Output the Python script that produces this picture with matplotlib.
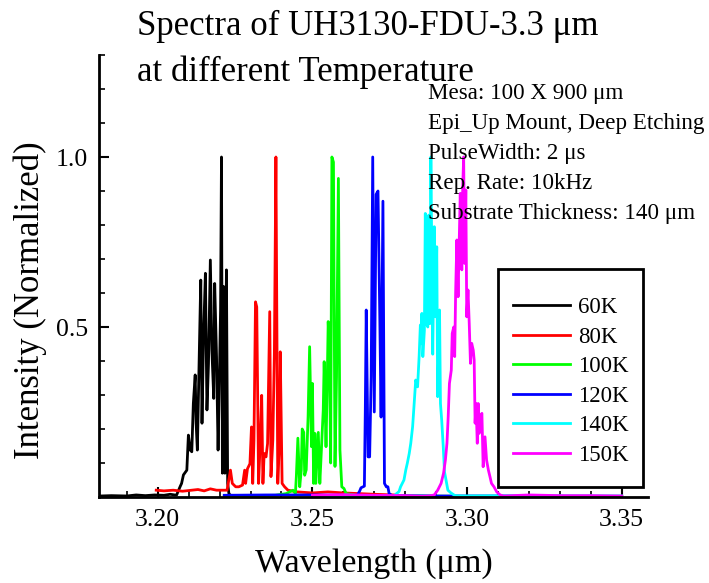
import matplotlib
matplotlib.use("Agg")
import matplotlib.pyplot as plt
from matplotlib.ticker import MultipleLocator, FixedLocator
from matplotlib.patches import Rectangle

plt.rcParams['font.family'] = ['Liberation Serif', 'DejaVu Serif']

# ---- data ----
labels = ["60K", "80K", "100K", "120K", "140K", "150K"]
colors = ["#000000", "#FF0000", "#00FF00", "#0000FF", "#00FFFF", "#FF00FF"]

wl_60 = [3.1815, 3.185, 3.190, 3.193, 3.196, 3.199, 3.202, 3.204, 3.2055,
         3.2061, 3.2072, 3.2077, 3.2083, 3.2094, 3.2099, 3.2105, 3.2110, 3.2115,
         3.2121, 3.2124, 3.2128, 3.2135, 3.2139, 3.2143, 3.2148, 3.2154, 3.2159,
         3.2164, 3.2170, 3.2175, 3.2181, 3.2184, 3.2190, 3.2195, 3.2199, 3.2203,
         3.2206, 3.2209, 3.2213, 3.2217, 3.2222, 3.2226, 3.2230, 3.2235, 3.226, 3.230]
in_60 = [0.003, 0.004, 0.003, 0.006, 0.004, 0.006, 0.005, 0.008, 0.006,
         0.006, 0.030, 0.040, 0.065, 0.079, 0.182, 0.138, 0.133, 0.275,
         0.359, 0.217, 0.138, 0.457, 0.638, 0.217, 0.471, 0.658, 0.256,
         0.393, 0.697, 0.432, 0.290, 0.628, 0.413, 0.138, 0.334, 0.550,
         1.000, 0.070, 0.619, 0.070, 0.668, 0.040, 0.010, 0.005, 0.004, 0.003]

wl_80 = [3.1995, 3.202, 3.205, 3.208, 3.211, 3.213, 3.215, 3.217, 3.219,
         3.2203, 3.2224, 3.2235, 3.2241, 3.2252, 3.2262, 3.2274, 3.2281, 3.2284,
         3.2290, 3.2298, 3.2303, 3.2307, 3.2311, 3.2316, 3.2320, 3.2326, 3.2331,
         3.2336, 3.2340, 3.2344, 3.2350, 3.2355, 3.2362, 3.2366, 3.2372, 3.2377,
         3.2382, 3.2388, 3.2393, 3.2396, 3.2402, 3.2410, 3.2421, 3.245, 3.250,
         3.255, 3.260, 3.265, 3.270, 3.2765]
in_80 = [0.020, 0.018, 0.020, 0.017, 0.020, 0.022, 0.018, 0.024, 0.020,
         0.020, 0.020, 0.079, 0.040, 0.030, 0.030, 0.035, 0.079, 0.040,
         0.083, 0.098, 0.206, 0.040, 0.167, 0.574, 0.559, 0.040, 0.157,
         0.299, 0.040, 0.128, 0.118, 0.157, 0.545, 0.060, 0.167, 0.422,
         1.000, 0.040, 0.157, 0.427, 0.040, 0.030, 0.020, 0.015, 0.012,
         0.015, 0.012, 0.010, 0.008, 0.006]

wl_100 = [3.2215, 3.230, 3.238, 3.2415, 3.2437, 3.2445, 3.2448, 3.2453, 3.2459,
          3.2464, 3.2467, 3.2472, 3.2475, 3.2480, 3.2486, 3.2491, 3.2497, 3.2500,
          3.2504, 3.2508, 3.2511, 3.2519, 3.2524, 3.2529, 3.2535, 3.2538, 3.2544,
          3.2548, 3.2551, 3.2555, 3.2559, 3.2563, 3.2568, 3.2573, 3.2578, 3.2584,
          3.2589, 3.2595, 3.2602, 3.2609, 3.265, 3.280, 3.300, 3.330, 3.350]
in_100 = [0.003, 0.004, 0.005, 0.010, 0.020, 0.010, 0.060, 0.173, 0.030,
          0.080, 0.200, 0.190, 0.064, 0.080, 0.236, 0.442, 0.148, 0.334,
          0.040, 0.187, 0.040, 0.190, 0.040, 0.138, 0.256, 0.398, 0.148,
          0.344, 0.516, 0.432, 0.100, 1.000, 0.985, 0.090, 0.354, 0.937,
          0.138, 0.030, 0.025, 0.010, 0.004, 0.003, 0.002, 0.002, 0.002]

wl_120 = [3.2215, 3.235, 3.250, 3.260, 3.2644, 3.2653, 3.2657, 3.2668, 3.2671,
          3.2674, 3.2680, 3.2685, 3.2690, 3.2695, 3.2700, 3.2706, 3.2712, 3.2718,
          3.2722, 3.2728, 3.2733, 3.2739, 3.2744, 3.2748, 3.2758, 3.290, 3.310,
          3.330, 3.350]
in_120 = [0.005, 0.006, 0.006, 0.005, 0.003, 0.018, 0.027, 0.032, 0.256,
          0.550, 0.118, 0.118, 0.354, 1.000, 0.250, 0.890, 0.900, 0.520,
          0.235, 0.870, 0.040, 0.030, 0.030, 0.010, 0.004, 0.003, 0.003,
          0.002, 0.002]

wl_140 = [3.255, 3.270, 3.2764, 3.2772, 3.2780, 3.2785, 3.2796, 3.2802, 3.2807,
          3.2813, 3.2818, 3.2824, 3.2829, 3.2834, 3.2840, 3.2845, 3.2849, 3.2851,
          3.2854, 3.2857, 3.2862, 3.2865, 3.2869, 3.2873, 3.2876, 3.2880, 3.2883,
          3.2889, 3.2894, 3.2898, 3.2902, 3.2905, 3.2911, 3.2914, 3.2918, 3.2923,
          3.2927, 3.2932, 3.2938, 3.2948, 3.2961, 3.2987, 3.320, 3.350]
in_140 = [0.002, 0.003, 0.003, 0.010, 0.016, 0.030, 0.050, 0.080, 0.100,
          0.128, 0.158, 0.207, 0.275, 0.344, 0.324, 0.413, 0.506, 0.452,
          0.540, 0.413, 0.490, 0.834, 0.510, 0.500, 0.829, 0.510, 1.000,
          0.420, 0.795, 0.530, 0.736, 0.295, 0.550, 0.275, 0.226, 0.148,
          0.074, 0.050, 0.020, 0.012, 0.004, 0.003, 0.004, 0.003]

wl_150 = [3.250, 3.260, 3.270, 3.280, 3.2856, 3.2878, 3.2894, 3.2905, 3.2916,
          3.2924, 3.2930, 3.2935, 3.2939, 3.2943, 3.2949, 3.2952, 3.2957, 3.2960,
          3.2963, 3.2967, 3.2971, 3.2974, 3.2978, 3.2983, 3.2986, 3.2989, 3.2992,
          3.2996, 3.2999, 3.3003, 3.3007, 3.3011, 3.3015, 3.3020, 3.3023, 3.3026,
          3.3029, 3.3033, 3.3036, 3.3039, 3.3043, 3.3048, 3.3052, 3.3058, 3.3063,
          3.3069, 3.3074, 3.3079, 3.3087, 3.3096, 3.3107, 3.3118, 3.320, 3.330,
          3.340, 3.350]
in_150 = [0.005, 0.007, 0.005, 0.004, 0.002, 0.003, 0.006, 0.020, 0.040,
          0.070, 0.109, 0.158, 0.236, 0.334, 0.373, 0.481, 0.500, 0.413,
          0.599, 0.756, 0.589, 0.726, 0.893, 0.668, 0.913, 1.000, 0.687,
          0.903, 0.530, 0.609, 0.511, 0.393, 0.452, 0.432, 0.403, 0.217,
          0.275, 0.158, 0.275, 0.187, 0.236, 0.246, 0.089, 0.177, 0.109,
          0.079, 0.060, 0.040, 0.030, 0.015, 0.006, 0.003, 0.006, 0.004,
          0.004, 0.003]

series_wl = [wl_60, wl_80, wl_100, wl_120, wl_140, wl_150]
series_in = [in_60, in_80, in_100, in_120, in_140, in_150]

title_lines = ["Spectra of UH3130-FDU-3.3 \u03bcm", "at different Temperature"]
notes = ["Mesa: 100 X 900 \u03bcm", "Epi_Up Mount, Deep Etching",
         "PulseWidth: 2 \u03bcs", "Rep. Rate: 10kHz",
         "Substrate Thickness: 140 \u03bcm"]
x_major = [3.20, 3.25, 3.30, 3.35]
y_major = [0.5, 1.0]

# ---- figure ----
W, H = 709, 583
fig = plt.figure(figsize=(W / 100, H / 100), dpi=100)
ax = fig.add_axes([99 / W, 1 - 497 / H, (648 - 99) / W, (497 - 55) / H])

handles = []
for wl, iv, c, lab in zip(series_wl, series_in, colors, labels):
    h, = ax.plot(wl, iv, color=c, lw=2.0, label=lab)
    handles.append(h)

ax.set_xlim(3.181, 3.3585)
ax.set_ylim(0, 1.3)
for s in ["top", "right"]:
    ax.spines[s].set_visible(False)
for s in ["left", "bottom"]:
    ax.spines[s].set_linewidth(2)

ax.xaxis.set_major_locator(FixedLocator(x_major))
ax.xaxis.set_minor_locator(MultipleLocator(0.01))
ax.yaxis.set_major_locator(FixedLocator(y_major))
ax.yaxis.set_minor_locator(MultipleLocator(0.1))
ax.set_xticklabels(["%.2f" % v for v in x_major])
ax.set_yticklabels(["%.1f" % v for v in y_major])
ax.tick_params(which="major", direction="in", length=7, width=1.5, labelsize=18.5)
ax.tick_params(which="minor", direction="in", length=4, width=1.2)
ax.tick_params(axis="x", which="major", pad=9)
ax.tick_params(axis="y", which="major", pad=8)

ax.set_xlabel("Wavelength (\u03bcm)", fontsize=24.5, labelpad=12)
ax.set_ylabel("Intensity (Normalized)", fontsize=25)
ax.yaxis.set_label_coords((47 - 99) / 549, (497 - 300) / 442)

fig.text(137 / W, 1 - 26 / H, title_lines[0], fontsize=25, va="center", ha="left")
fig.text(137 / W, 1 - 72 / H, title_lines[1], fontsize=25, va="center", ha="left")

for i, t in enumerate(notes):
    fig.text(428 / W, 1 - (94 + 30 * i) / H, t, fontsize=16.6, va="center", ha="left")

# legend box
fig.patches.append(Rectangle((498 / W, 1 - 487 / H), (643 - 498) / W, (487 - 269) / H,
                             transform=fig.transFigure, fill=True, facecolor="white",
                             edgecolor="black", lw=2, zorder=5))
leg = fig.legend(handles=handles, loc="upper left",
                 bbox_to_anchor=(513 / W, 1 - 297 / H), bbox_transform=fig.transFigure,
                 frameon=False, fontsize=16.5, handlelength=2.5, handletextpad=0.35,
                 labelspacing=0.37, borderpad=0, borderaxespad=0)
leg.set_zorder(6)

fig.savefig("out.png", dpi=100)
